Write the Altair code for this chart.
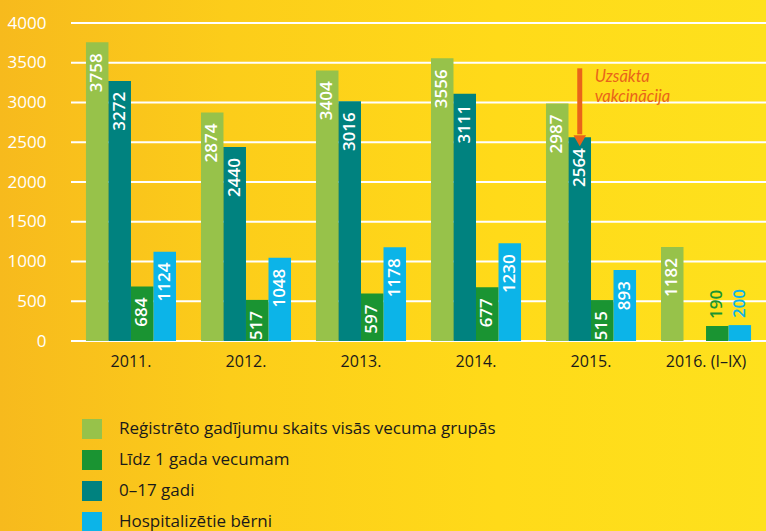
import altair as alt
import pandas as pd

years = ["2011.", "2012.", "2013.", "2014.", "2015.", "2016. (I–IX)"]
series_names = [
    "Reģistrēto gadījumu skaits visās vecuma grupās",
    "Līdz 1 gada vecumam",
    "0–17 gadi",
    "Hospitalizētie bērni",
]
all_groups = [3758, 2874, 3404, 3556, 2987, 1182]
under_1 = [684, 517, 597, 677, 515, 190]
age_0_17 = [3272, 2440, 3016, 3111, 2564, None]
hospitalized = [1124, 1048, 1178, 1230, 893, 200]
y_ticks = [0, 500, 1000, 1500, 2000, 2500, 3000, 3500, 4000]
series_colors = ["#97C24A", "#1A9432", "#00827F", "#0CB4E8"]
bar_order = [series_names[0], series_names[2], series_names[1], series_names[3]]

annotation_lines = ["Uzsākta", "vakcinācija"]
annotation_line_y = [3260, 3005]
annotation_year = "2015."
annotation_series = "0–17 gadi"
arrow_top = 3430
arrow_shaft_end = 2600
arrow_head = 2520

rows = []
for s, vals in zip(series_names, [all_groups, under_1, age_0_17, hospitalized]):
    for y, v in zip(years, vals):
        if v is not None:
            rows.append({"year": y, "series": s, "value": v})
df = pd.DataFrame(rows)

arrow_df = pd.DataFrame([{
    "year": annotation_year, "series": annotation_series,
    "top": arrow_top, "shaft": arrow_shaft_end, "head": arrow_head,
}])
ann_text_df = pd.DataFrame({
    "year": [annotation_year] * len(annotation_lines),
    "series": [annotation_series] * len(annotation_lines),
    "ty": annotation_line_y, "label": annotation_lines,
})
ticks_df = pd.DataFrame({"tick": y_ticks})

FONT = "Open Sans"
ORANGE = "#E9641A"

x_enc = alt.X("year:N", sort=years,
              scale=alt.Scale(paddingInner=0.217, paddingOuter=0.13),
              axis=alt.Axis(title=None, labelAngle=0, domain=False, ticks=False,
                            labelFontSize=16, labelColor="#1a1a1a", labelPadding=12,
                            labelFont=FONT, zindex=2))
xoff_enc = alt.XOffset("series:N", sort=bar_order,
                       scale=alt.Scale(domain=bar_order, paddingInner=0, paddingOuter=0))
y_scale = alt.Scale(domain=[0, 4000], nice=False)
y_axis = alt.Axis(title=None, values=y_ticks, format="d", labelOverlap=False,
                  grid=False, domain=False, ticks=False,
                  labelColor="white", labelFontSize=17, labelPadding=25,
                  labelFont=FONT, zindex=2)

bg = alt.Chart(pd.DataFrame({"a": [0]})).mark_rect(
    fill=alt.Gradient(
        gradient="linear", x1=0, x2=1, y1=0, y2=0,
        stops=[alt.GradientStop(offset=0, color="#F7BA1D"),
               alt.GradientStop(offset=0.3, color="#FCCD1A"),
               alt.GradientStop(offset=0.65, color="#FFDA19"),
               alt.GradientStop(offset=1, color="#FEE11D")]),
).encode(x=alt.value(-71), x2=alt.value(695), y=alt.value(-23), y2=alt.value(508))

grid = alt.Chart(ticks_df).mark_rule(color="white", strokeWidth=2.2).encode(
    y=alt.Y("tick:Q", scale=y_scale, axis=y_axis))

bars = alt.Chart(df).mark_bar().encode(
    x=x_enc,
    xOffset=xoff_enc,
    y=alt.Y("value:Q", scale=y_scale, axis=y_axis),
    color=alt.Color("series:N",
                    scale=alt.Scale(domain=series_names, range=series_colors),
                    legend=alt.Legend(orient="none", legendX=11, legendY=396, title=None,
                                      symbolType="square", symbolSize=400,
                                      symbolStrokeWidth=0, symbolOpacity=1,
                                      labelFontSize=17, labelFont=FONT,
                                      labelColor="#1a1a1a", labelLimit=0,
                                      rowPadding=11, labelOffset=17, padding=0,
                                      zindex=2)),
)

inside = alt.Chart(df).transform_filter("datum.value >= 300").mark_text(
    angle=270, align="right", baseline="middle", dx=-11, color="white",
    fontSize=17, fontWeight=600, font=FONT,
).encode(x=x_enc, xOffset=xoff_enc, y=alt.Y("value:Q", scale=y_scale, axis=y_axis),
         text="value:Q")

outside = alt.Chart(df).transform_filter("datum.value < 300").mark_text(
    angle=270, align="left", baseline="middle", dx=7,
    fontSize=17, fontWeight=600, font=FONT,
).encode(x=x_enc, xOffset=xoff_enc, y=alt.Y("value:Q", scale=y_scale, axis=y_axis),
         text="value:Q",
         color=alt.Color("series:N", scale=alt.Scale(domain=series_names, range=series_colors),
                         legend=None))

shaft = alt.Chart(arrow_df).mark_rule(color=ORANGE, strokeWidth=5).encode(
    x=x_enc, xOffset=xoff_enc,
    y=alt.Y("top:Q", scale=y_scale, axis=y_axis), y2="shaft:Q")

head = alt.Chart(arrow_df).mark_point(shape="triangle-down", filled=True, color=ORANGE,
                                      size=160, opacity=1).encode(
    x=x_enc, xOffset=xoff_enc, y=alt.Y("head:Q", scale=y_scale, axis=y_axis))

ann_text = alt.Chart(ann_text_df).mark_text(
    align="left", baseline="alphabetic", dx=15, color=ORANGE, fontSize=16.5,
    fontStyle="italic", font="Lato",
).encode(x=x_enc, xOffset=xoff_enc, y=alt.Y("ty:Q", scale=y_scale, axis=y_axis),
         text="label:N")

chart = alt.layer(bg, grid, bars, inside, outside, shaft, head, ann_text).properties(
    width=695, height=318,
    autosize=alt.AutoSizeParams(type="none"),
    padding={"left": 71, "top": 23, "right": 0, "bottom": 190},
    background="#FCD21B",
).configure_view(stroke=None)

chart.save("out.html", embed_options={"renderer": "svg", "actions": False})
